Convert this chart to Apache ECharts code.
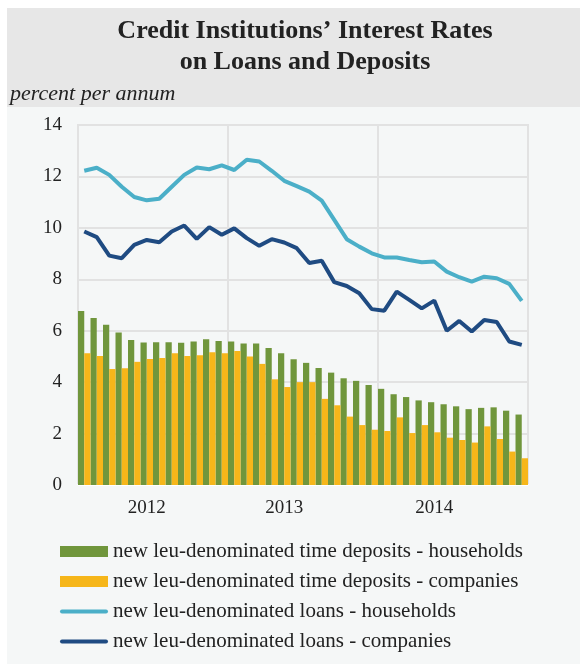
<!DOCTYPE html>
<html>
<head>
<meta charset="utf-8">
<script src="https://cdn.jsdelivr.net/npm/echarts@6/dist/echarts.min.js"></script>
<style>
  html, body { margin: 0; padding: 0; background: #ffffff; }
  #main { width: 580px; height: 664px; }
</style>
</head>
<body>
<div id="main"></div>
<script type="text/javascript">
// monthly data, Jan 2012 - Dec 2014
var months = [];
for (var y = 2012; y <= 2014; y++) {
  for (var m = 1; m <= 12; m++) {
    months.push(y + '-' + (m < 10 ? '0' + m : m));
  }
}
// year labels as placed in the picture (category index -> text)
var yearLabels = { 5: '2012', 16: '2013', 28: '2014' };

var depositsHouseholds = [6.77, 6.49, 6.23, 5.93, 5.64, 5.54, 5.55, 5.55, 5.53, 5.58, 5.67, 5.60,
  5.58, 5.50, 5.50, 5.33, 5.12, 4.89, 4.75, 4.55, 4.37, 4.15, 4.05, 3.89,
  3.74, 3.53, 3.42, 3.29, 3.22, 3.14, 3.06, 2.95, 3.00, 3.02, 2.89, 2.74];
var depositsCompanies = [5.12, 5.02, 4.51, 4.54, 4.79, 4.90, 4.94, 5.12, 5.02, 5.05, 5.16, 5.12,
  5.21, 5.00, 4.71, 4.11, 3.81, 4.00, 4.00, 3.35, 3.10, 2.66, 2.33, 2.15,
  2.10, 2.63, 2.02, 2.33, 2.05, 1.84, 1.75, 1.65, 2.28, 1.79, 1.30, 1.04];
var loansHouseholds = [12.22, 12.34, 12.06, 11.60, 11.20, 11.07, 11.13, 11.60, 12.06, 12.35, 12.28, 12.43,
  12.25, 12.65, 12.58, 12.22, 11.83, 11.62, 11.41, 11.06, 10.31, 9.56, 9.27, 9.01,
  8.85, 8.85, 8.75, 8.66, 8.69, 8.30, 8.08, 7.91, 8.10, 8.04, 7.82, 7.16];
var loansCompanies = [9.86, 9.64, 8.92, 8.82, 9.34, 9.53, 9.44, 9.86, 10.09, 9.57, 10.03, 9.73,
  9.98, 9.60, 9.30, 9.56, 9.43, 9.21, 8.63, 8.72, 7.89, 7.74, 7.46, 6.84,
  6.78, 7.52, 7.20, 6.87, 7.17, 6.00, 6.38, 5.97, 6.42, 6.34, 5.58, 5.45];

var names = [
  'new leu-denominated time deposits - households',
  'new leu-denominated time deposits - companies',
  'new leu-denominated loans - households',
  'new leu-denominated loans - companies'
];

var serif = '"Liberation Serif", "Times New Roman", "DejaVu Serif", serif';
// thick rounded stroke for the line entries of the legend
var lineIcon = 'path://M2,0 L46,0 A2,2 0 0 1 46,4 L2,4 A2,2 0 0 1 2,0 Z';

var chartDom = document.getElementById('main');
var myChart = echarts.init(chartDom, null, { renderer: 'canvas' });
var option;

option = {
  animation: false,
  graphic: [
    { type: 'rect', z: -10, shape: { x: 7, y: 8, width: 573, height: 99 }, style: { fill: '#e7e7e7' } },
    { type: 'rect', z: -10, shape: { x: 7, y: 107, width: 573, height: 557 }, style: { fill: '#f5f7f7' } },
    {
      type: 'text', left: 10, top: 83,
      style: { text: 'percent per annum', font: 'italic 22px ' + serif, fill: '#222222' }
    }
  ],
  title: {
    text: 'Credit Institutions\u2019 Interest Rates\non Loans and Deposits',
    left: 300,
    textAlign: 'center',
    top: 11,
    textStyle: {
      fontFamily: serif,
      fontWeight: 'bold',
      fontSize: 26,
      lineHeight: 31,
      color: '#222222'
    }
  },
  grid: {
    left: 78,
    right: 52,
    top: 125,
    bottom: 179,
    show: true,
    backgroundColor: '#f5f7f7',
    borderColor: '#e2e2e2',
    borderWidth: 2
  },
  legend: {
    orient: 'vertical',
    left: 55,
    top: 536,
    itemWidth: 48,
    itemHeight: 11,
    itemGap: 9,
    textStyle: { fontFamily: serif, fontSize: 21, color: '#222222' },
    data: [
      { name: names[0], icon: 'rect' },
      { name: names[1], icon: 'rect' },
      { name: names[2], icon: lineIcon },
      { name: names[3], icon: lineIcon }
    ]
  },
  xAxis: {
    type: 'category',
    data: months,
    boundaryGap: true,
    axisLine: { show: true, lineStyle: { color: '#ffffff', width: 2 } },
    axisTick: { show: false },
    axisLabel: {
      interval: 0,
      margin: 14,
      fontFamily: serif,
      fontSize: 19,
      color: '#222222',
      formatter: function (v, i) { return yearLabels[i] || ''; }
    },
    splitLine: {
      show: true,
      interval: function (i) { return i % 12 === 0; },
      lineStyle: { color: '#e2e2e2', width: 2 }
    }
  },
  yAxis: {
    type: 'value',
    min: 0,
    max: 14,
    interval: 2,
    axisLine: { show: false },
    axisTick: { show: false },
    axisLabel: { margin: 16, fontFamily: serif, fontSize: 19, color: '#222222' },
    splitLine: { lineStyle: { color: '#e2e2e2', width: 2 } }
  },
  series: [
    {
      name: names[0], type: 'bar', data: depositsHouseholds,
      barGap: '0%', barCategoryGap: '0%',
      itemStyle: { color: '#70963c' }
    },
    {
      name: names[1], type: 'bar', data: depositsCompanies,
      barGap: '0%', barCategoryGap: '0%',
      itemStyle: { color: '#f6b61a' }
    },
    {
      name: names[2], type: 'line', data: loansHouseholds,
      symbol: 'none',
      lineStyle: { color: '#4bafc8', width: 4 },
      itemStyle: { color: '#4bafc8' }
    },
    {
      name: names[3], type: 'line', data: loansCompanies,
      symbol: 'none',
      lineStyle: { color: '#1f4b82', width: 4 },
      itemStyle: { color: '#1f4b82' }
    }
  ]
};

option && myChart.setOption(option, true);
</script>
</body>
</html>
